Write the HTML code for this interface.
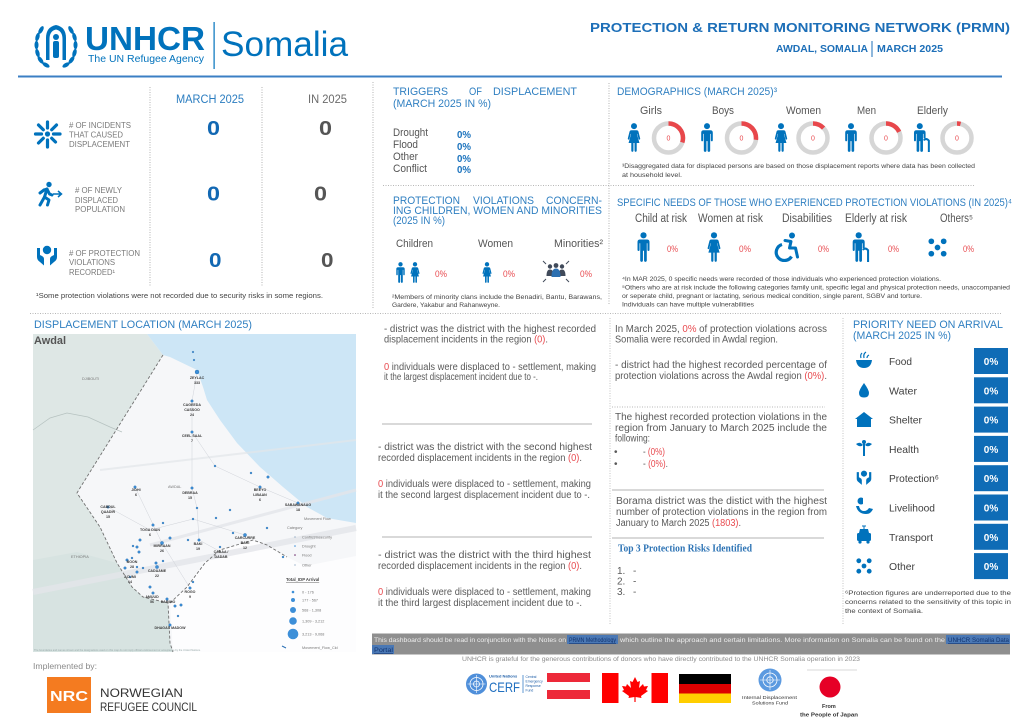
<!DOCTYPE html>
<html><head><meta charset="utf-8"><title>PRMN Awdal March 2025</title>
<style>
html,body{margin:0;padding:0;background:#fff;}
svg{display:block;}
text{font-family:"Liberation Sans",Arial,sans-serif;}
.t{fill:#2f7fc1;font-size:11px;}
.g{fill:#595959;}
.r{fill:#e84a4f;}
.dot{stroke:#a0a0a0;stroke-width:0.8;stroke-dasharray:1 1.5;fill:none;}
.sol{stroke:#9a9a9a;stroke-width:0.8;}
.b{fill:#0072bc;}
.lab{font-size:8px;fill:#7a7a7a;}
.p{font-size:10px;fill:#5a5a5a;}
.fn{font-size:7px;fill:#444;}
.tw{font-size:3.6px;font-weight:bold;fill:#3a3a3a;text-anchor:middle;}
.lg{font-size:3.8px;fill:#777;}
</style></head><body>
<svg width="1024" height="724" viewBox="0 0 1024 724" xmlns="http://www.w3.org/2000/svg">
<defs>
<symbol id="man" viewBox="0 0 16 32"><circle cx="8" cy="3.5" r="3.3"/><path d="M4.3 8 H11.7 Q14.4 8 14.4 10.7 V19 Q14.4 20.2 13.3 20.2 Q12.2 20.2 12.2 19 V12 H11.5 V30.3 Q11.5 31.8 10 31.8 Q8.6 31.8 8.6 30.3 V20 H7.4 V30.3 Q7.4 31.8 6 31.8 Q4.5 31.8 4.5 30.3 V12 H3.8 V19 Q3.8 20.2 2.7 20.2 Q1.6 20.2 1.6 19 V10.7 Q1.6 8 4.3 8 Z"/></symbol>
<symbol id="woman" viewBox="0 0 16 32"><circle cx="8" cy="3.5" r="3.3"/><path d="M5.2 8 H10.8 Q12.6 8 13 9.8 L14.8 17 Q15 18.2 14 18.3 Q13.2 18.4 13 17.5 L11.6 12 H11.2 L14 22 H11 V30.5 Q11 31.8 9.8 31.8 Q8.6 31.8 8.6 30.5 V22 H7.4 V30.5 Q7.4 31.8 6.2 31.8 Q5 31.8 5 30.5 V22 H2 L4.8 12 H4.4 L3 17.5 Q2.8 18.4 2 18.3 Q1 18.2 1.2 17 L3 9.8 Q3.4 8 5.2 8 Z"/></symbol>
<symbol id="eld" viewBox="0 0 22 32"><circle cx="8" cy="3.5" r="3.3"/><path d="M4.3 8 H11.7 Q14.4 8 14.4 10.7 V17 H12.2 V12 H11.5 V30.3 Q11.5 31.8 10 31.8 Q8.6 31.8 8.6 30.3 V20 H7.4 V30.3 Q7.4 31.8 6 31.8 Q4.5 31.8 4.5 30.3 V12 H3.8 V19 Q3.8 20.2 2.7 20.2 Q1.6 20.2 1.6 19 V10.7 Q1.6 8 4.3 8 Z"/><path d="M13 18.5 Q15.5 16.5 18 19.5 V31.5" fill="none" stroke="#0072bc" stroke-width="2.2" stroke-linecap="round"/></symbol>
<symbol id="wc" viewBox="0 0 26 30"><circle cx="19" cy="3.5" r="3"/><path d="M12 8.5 L18 9.5 L16.5 16 H22.5 L24.5 25" fill="none" stroke="#0072bc" stroke-width="3" stroke-linejoin="round" stroke-linecap="round"/><path d="M9 12.5 A8.2 8.2 0 1 0 18.5 24.5" fill="none" stroke="#0072bc" stroke-width="3.2"/></symbol>
<symbol id="dots5" viewBox="0 0 20 20"><circle cx="3.5" cy="3.5" r="3"/><circle cx="16.5" cy="3.5" r="3"/><circle cx="10" cy="10" r="3"/><circle cx="3.5" cy="16.5" r="3"/><circle cx="16.5" cy="16.5" r="3"/></symbol>
<symbol id="hands" viewBox="0 0 24 22"><circle cx="12" cy="5" r="4.2"/><path d="M2 3 V12 Q2 15 5 17 L9 20.5 V14 Q9 12 7 11 L5 10 V3 Z"/><path d="M22 3 V12 Q22 15 19 17 L15 20.5 V14 Q15 12 17 11 L19 10 V3 Z"/></symbol>
</defs>

<!-- ===== HEADER ===== -->
<g fill="#0072bc">
<g>
<ellipse cx="41" cy="30" rx="2" ry="4.3" transform="rotate(30 41 30)"/>
<ellipse cx="37.5" cy="37" rx="2" ry="4.3" transform="rotate(15 37.5 37)"/>
<ellipse cx="36.5" cy="45" rx="2" ry="4.3"/>
<ellipse cx="37.5" cy="53" rx="2" ry="4.3" transform="rotate(-15 37.5 53)"/>
<ellipse cx="40.5" cy="60" rx="2" ry="4.3" transform="rotate(-35 40.5 60)"/>
<ellipse cx="46" cy="65" rx="2" ry="4" transform="rotate(-60 46 65)"/>
<ellipse cx="71" cy="30" rx="2" ry="4.3" transform="rotate(-30 71 30)"/>
<ellipse cx="74.5" cy="37" rx="2" ry="4.3" transform="rotate(-15 74.5 37)"/>
<ellipse cx="75.5" cy="45" rx="2" ry="4.3"/>
<ellipse cx="74.5" cy="53" rx="2" ry="4.3" transform="rotate(15 74.5 53)"/>
<ellipse cx="71.5" cy="60" rx="2" ry="4.3" transform="rotate(35 71.5 60)"/>
<ellipse cx="66" cy="65" rx="2" ry="4" transform="rotate(60 66 65)"/>
<path d="M46 60 V38 Q46 27 56 25 Q66 27 66 38 V60 H62.5 V39 Q62.5 31 56 29.5 Q49.5 31 49.5 39 V60 Z"/>
<circle cx="56" cy="37" r="3"/>
<rect x="53" y="41" width="6" height="17" rx="2"/>
</g>
<text x="85" y="50" font-size="33" font-weight="bold" textLength="120" lengthAdjust="spacingAndGlyphs">UNHCR</text>
<text x="88" y="62" font-size="10.5" textLength="116" lengthAdjust="spacingAndGlyphs">The UN Refugee Agency</text>
<rect x="213.5" y="22" width="1.2" height="47"/>
<text x="221" y="56" font-size="35" textLength="127" lengthAdjust="spacingAndGlyphs">Somalia</text>
</g>
<text x="590" y="32" font-size="12.5" font-weight="bold" fill="#1d6fb8" textLength="420" lengthAdjust="spacingAndGlyphs">PROTECTION &amp; RETURN MONITORING NETWORK (PRMN)</text>
<text x="776" y="52" font-size="10.5" font-weight="bold" fill="#1d6fb8" textLength="92" lengthAdjust="spacingAndGlyphs">AWDAL, SOMALIA</text>
<rect x="871.5" y="41" width="1" height="16" fill="#1d6fb8"/>
<text x="877" y="52" font-size="10.5" font-weight="bold" fill="#1d6fb8" textLength="66" lengthAdjust="spacingAndGlyphs">MARCH 2025</text>
<line x1="18" y1="76.5" x2="1002" y2="76.5" stroke="#3b7fc4" stroke-width="2"/>

<!-- ===== LEFT PANEL ===== -->
<line class="dot" x1="150" y1="87" x2="150" y2="287"/>
<line class="dot" x1="262" y1="87" x2="262" y2="287"/>
<line class="dot" x1="373" y1="82" x2="373" y2="308"/>
<text x="176" y="103" font-size="11.5" fill="#2b7dc0" textLength="68" lengthAdjust="spacingAndGlyphs">MARCH 2025</text>
<text x="308" y="103" font-size="11.5" fill="#6b6b6b" textLength="39" lengthAdjust="spacingAndGlyphs">IN 2025</text>

<!-- row1 icon burst -->
<g stroke="#0072bc" stroke-width="3.2" stroke-linecap="round">
<line x1="47.5" y1="128" x2="47.5" y2="122"/>
<line x1="47.5" y1="140" x2="47.5" y2="147"/>
<line x1="41.5" y1="134" x2="35.5" y2="134"/>
<line x1="53.5" y1="134" x2="60" y2="134"/>
<line x1="43.3" y1="129.8" x2="38.5" y2="125"/>
<line x1="51.7" y1="129.8" x2="56.5" y2="125"/>
<line x1="43.3" y1="138.2" x2="38.5" y2="143"/>
<line x1="51.7" y1="138.2" x2="55.5" y2="142"/>
</g>
<circle cx="47.5" cy="134" r="2.6" fill="#0072bc"/>
<!-- row2 running -->
<g fill="none" stroke="#0072bc" stroke-width="3" stroke-linecap="round" stroke-linejoin="round">
<path d="M44 190 L47 189 L44.5 197 L49 200 L47.5 205"/>
<path d="M44.5 197 L40 205"/>
<path d="M40 193 L44 190"/>
<path d="M47 189 L49.5 194 L52 195"/>
</g>
<circle cx="49" cy="184.5" r="2.7" fill="#0072bc"/>
<path d="M53 194 H61 M58 191 L61.5 194 L58 197" fill="none" stroke="#0072bc" stroke-width="1.5"/>
<!-- row3 hands -->
<use href="#hands" x="35" y="245" width="24" height="22" fill="#0072bc"/>

<text class="lab" x="69" y="128" textLength="62" lengthAdjust="spacingAndGlyphs"># OF INCIDENTS</text>
<text class="lab" x="69" y="137.5" textLength="54" lengthAdjust="spacingAndGlyphs">THAT CAUSED</text>
<text class="lab" x="69" y="147" textLength="61" lengthAdjust="spacingAndGlyphs">DISPLACEMENT</text>
<text class="lab" x="75" y="193" textLength="47" lengthAdjust="spacingAndGlyphs"># OF NEWLY</text>
<text class="lab" x="75" y="203" textLength="43" lengthAdjust="spacingAndGlyphs">DISPLACED</text>
<text class="lab" x="75" y="212" textLength="50" lengthAdjust="spacingAndGlyphs">POPULATION</text>
<text class="lab" x="69" y="256" textLength="71" lengthAdjust="spacingAndGlyphs"># OF PROTECTION</text>
<text class="lab" x="69" y="265" textLength="46" lengthAdjust="spacingAndGlyphs">VIOLATIONS</text>
<text class="lab" x="69" y="275" textLength="46" lengthAdjust="spacingAndGlyphs">RECORDED¹</text>

<g font-size="20" font-weight="bold">
<text x="207" y="135" fill="#1268b3" textLength="13" lengthAdjust="spacingAndGlyphs">0</text>
<text x="319" y="135" fill="#555" textLength="13" lengthAdjust="spacingAndGlyphs">0</text>
<text x="207" y="200.5" fill="#1268b3" textLength="13" lengthAdjust="spacingAndGlyphs">0</text>
<text x="314" y="200.5" fill="#555" textLength="13" lengthAdjust="spacingAndGlyphs">0</text>
<text x="209" y="267" fill="#1268b3" textLength="12.5" lengthAdjust="spacingAndGlyphs">0</text>
<text x="321" y="267" fill="#555" textLength="12.5" lengthAdjust="spacingAndGlyphs">0</text>
</g>
<text class="fn" x="36" y="298" textLength="287" lengthAdjust="spacingAndGlyphs">¹Some protection violations were not recorded due to security risks in some regions.</text>

<!-- ===== TRIGGERS ===== -->
<line class="dot" x1="609" y1="83" x2="609" y2="305"/>
<text class="t" x="393" y="95" textLength="55" lengthAdjust="spacingAndGlyphs">TRIGGERS</text>
<text class="t" x="469" y="95" textLength="13" lengthAdjust="spacingAndGlyphs">OF</text>
<text class="t" x="493" y="95" textLength="84" lengthAdjust="spacingAndGlyphs">DISPLACEMENT</text>
<text class="t" x="393" y="107" textLength="98" lengthAdjust="spacingAndGlyphs">(MARCH 2025 IN %)</text>
<g font-size="11" fill="#555">
<text x="393" y="136" textLength="35" lengthAdjust="spacingAndGlyphs">Drought</text>
<text x="393" y="148" textLength="25" lengthAdjust="spacingAndGlyphs">Flood</text>
<text x="393" y="160" textLength="25" lengthAdjust="spacingAndGlyphs">Other</text>
<text x="393" y="172" textLength="34" lengthAdjust="spacingAndGlyphs">Conflict</text>
</g>
<g font-size="10" font-weight="bold" fill="#1a72bd">
<text x="457" y="138" textLength="14" lengthAdjust="spacingAndGlyphs">0%</text>
<text x="457" y="150" textLength="14" lengthAdjust="spacingAndGlyphs">0%</text>
<text x="457" y="162" textLength="14" lengthAdjust="spacingAndGlyphs">0%</text>
<text x="457" y="173" textLength="14" lengthAdjust="spacingAndGlyphs">0%</text>
</g>
<line class="dot" x1="383" y1="185.5" x2="975" y2="185.5"/>

<text class="t" x="393" y="204" textLength="67" lengthAdjust="spacingAndGlyphs">PROTECTION</text>
<text class="t" x="473" y="204" textLength="61" lengthAdjust="spacingAndGlyphs">VIOLATIONS</text>
<text class="t" x="546" y="204" textLength="56" lengthAdjust="spacingAndGlyphs">CONCERN-</text>
<text class="t" x="393" y="214" textLength="209" lengthAdjust="spacingAndGlyphs">ING CHILDREN, WOMEN AND MINORITIES</text>
<text class="t" x="393" y="224" textLength="52" lengthAdjust="spacingAndGlyphs">(2025 IN %)</text>
<g font-size="11" fill="#555">
<text x="396" y="247" textLength="37" lengthAdjust="spacingAndGlyphs">Children</text>
<text x="478" y="247" textLength="35" lengthAdjust="spacingAndGlyphs">Women</text>
<text x="554" y="247" textLength="49" lengthAdjust="spacingAndGlyphs">Minorities²</text>
</g>
<use href="#man" x="395" y="262" width="11" height="21" fill="#0072bc"/>
<use href="#woman" x="409" y="262" width="12" height="21" fill="#0072bc"/>
<use href="#woman" x="481" y="262" width="12" height="21" fill="#0072bc"/>
<!-- minorities -->
<g fill="#404a5a">
<circle cx="550" cy="266.5" r="2.2"/><circle cx="556" cy="265.5" r="2.4"/><circle cx="562" cy="266.5" r="2.2"/>
<path d="M546.5 276 Q546.5 269.5 550 269.5 Q553.5 269.5 553.5 276 Z"/>
<path d="M558.5 276 Q558.5 269.5 562 269.5 Q565.5 269.5 565.5 276 Z"/>
<path d="M551.5 277 Q551.5 268.5 556 268.5 Q560.5 268.5 560.5 277 Z" fill="#2c6fb0"/>
</g>
<g stroke="#404a5a" stroke-width="1" fill="none">
<path d="M546 264 L543 261"/><path d="M566 264 L569 261"/><path d="M546 279 L543 282"/><path d="M566 279 L569 282"/>
</g>
<g font-size="9" class="r">
<text x="435" y="277" textLength="12" lengthAdjust="spacingAndGlyphs">0%</text>
<text x="503" y="277" textLength="12" lengthAdjust="spacingAndGlyphs">0%</text>
<text x="580" y="277" textLength="12" lengthAdjust="spacingAndGlyphs">0%</text>
</g>
<text x="392" y="299" font-size="6.3" fill="#444" textLength="210" lengthAdjust="spacingAndGlyphs">²Members of minority clans include the Benadiri, Bantu, Barawans,</text>
<text x="392" y="307" font-size="6.3" fill="#444" textLength="108" lengthAdjust="spacingAndGlyphs">Gardere, Yakabur and Rahanweyne.</text>

<!-- ===== DEMOGRAPHICS ===== -->
<text class="t" x="617" y="95" textLength="160" lengthAdjust="spacingAndGlyphs">DEMOGRAPHICS (MARCH 2025)³</text>
<g font-size="11" fill="#555">
<text x="640" y="114" textLength="22" lengthAdjust="spacingAndGlyphs">Girls</text>
<text x="712" y="114" textLength="22" lengthAdjust="spacingAndGlyphs">Boys</text>
<text x="786" y="114" textLength="35" lengthAdjust="spacingAndGlyphs">Women</text>
<text x="857" y="114" textLength="19" lengthAdjust="spacingAndGlyphs">Men</text>
<text x="917" y="114" textLength="31" lengthAdjust="spacingAndGlyphs">Elderly</text>
</g>
<use href="#woman" x="626" y="123" width="16" height="29" fill="#0072bc"/>
<use href="#man" x="699" y="123" width="16" height="29" fill="#0072bc"/>
<use href="#woman" x="773" y="123" width="16" height="29" fill="#0072bc"/>
<use href="#man" x="843" y="123" width="16" height="29" fill="#0072bc"/>
<use href="#eld" x="912" y="123" width="21" height="29" fill="#0072bc"/>
<g fill="none" stroke-width="4.5">
<circle cx="668.5" cy="138" r="14.5" stroke="#d6d6d6"/>
<circle cx="668.5" cy="138" r="14.5" stroke="#e8474b" stroke-dasharray="27.3 91.1" transform="rotate(-90 668.5 138)"/>
<circle cx="741.5" cy="138" r="14.5" stroke="#d6d6d6"/>
<circle cx="741.5" cy="138" r="14.5" stroke="#e8474b" stroke-dasharray="24.6 91.1" transform="rotate(-90 741.5 138)"/>
<circle cx="813" cy="138" r="14.5" stroke="#d6d6d6"/>
<circle cx="813" cy="138" r="14.5" stroke="#e8474b" stroke-dasharray="11.8 91.1" transform="rotate(-90 813 138)"/>
<circle cx="886" cy="138" r="14.5" stroke="#d6d6d6"/>
<circle cx="886" cy="138" r="14.5" stroke="#e8474b" stroke-dasharray="16.4 91.1" transform="rotate(-90 886 138)"/>
<circle cx="957" cy="138" r="14.5" stroke="#d6d6d6"/>
<circle cx="957" cy="138" r="14.5" stroke="#e8474b" stroke-dasharray="3.6 91.1" transform="rotate(-90 957 138)"/>
</g>
<g font-size="7" class="r" text-anchor="middle">
<text x="668.5" y="140.5">0</text><text x="741.5" y="140.5">0</text><text x="813" y="140.5">0</text><text x="886" y="140.5">0</text><text x="957" y="140.5">0</text>
</g>
<text x="622" y="168" font-size="6.3" fill="#444" textLength="353" lengthAdjust="spacingAndGlyphs">³Disaggregated data for displaced persons are based on those displacement reports where data has been collected</text>
<text x="622" y="177" font-size="6.3" fill="#444" textLength="60" lengthAdjust="spacingAndGlyphs">at household level.</text>

<!-- ===== SPECIFIC NEEDS ===== -->
<text class="t" x="617" y="206" textLength="395" lengthAdjust="spacingAndGlyphs">SPECIFIC NEEDS OF THOSE WHO EXPERIENCED PROTECTION VIOLATIONS (IN 2025)⁴</text>
<g font-size="11.5" fill="#555">
<text x="635" y="222" textLength="52" lengthAdjust="spacingAndGlyphs">Child at risk</text>
<text x="698" y="222" textLength="65" lengthAdjust="spacingAndGlyphs">Women at risk</text>
<text x="782" y="222" textLength="50" lengthAdjust="spacingAndGlyphs">Disabilities</text>
<text x="845" y="222" textLength="62" lengthAdjust="spacingAndGlyphs">Elderly at risk</text>
<text x="940" y="222" textLength="33" lengthAdjust="spacingAndGlyphs">Others⁵</text>
</g>
<use href="#man" x="635" y="232" width="17" height="30" fill="#0072bc"/>
<use href="#woman" x="706" y="232" width="16" height="30" fill="#0072bc"/>
<use href="#wc" x="773" y="232" width="26" height="30" fill="#0072bc"/>
<use href="#eld" x="851" y="232" width="21" height="30" fill="#0072bc"/>
<use href="#dots5" x="928" y="238" width="19" height="19" fill="#0072bc"/>
<g font-size="9" class="r">
<text x="667" y="252" textLength="11" lengthAdjust="spacingAndGlyphs">0%</text>
<text x="739" y="252" textLength="12" lengthAdjust="spacingAndGlyphs">0%</text>
<text x="818" y="252" textLength="11" lengthAdjust="spacingAndGlyphs">0%</text>
<text x="888" y="252" textLength="11" lengthAdjust="spacingAndGlyphs">0%</text>
<text x="963" y="252" textLength="11" lengthAdjust="spacingAndGlyphs">0%</text>
</g>
<g font-size="6.3" fill="#444">
<text x="622" y="281" textLength="319" lengthAdjust="spacingAndGlyphs">⁴In MAR 2025, 0 specific needs were recorded of those individuals who experienced protection violations.</text>
<text x="622" y="289.5" textLength="388" lengthAdjust="spacingAndGlyphs">⁵Others who are at risk include the following categories family unit, specific legal and physical protection needs, unaccompanied</text>
<text x="622" y="298" textLength="300" lengthAdjust="spacingAndGlyphs">or seperate child, pregnant or lactating, serious medical condition, single parent, SGBV and torture.</text>
<text x="622" y="306.5" textLength="132" lengthAdjust="spacingAndGlyphs">Individuals can have multiple vulnerabilities</text>
</g>

<line class="dot" x1="30" y1="313.5" x2="1002" y2="313.5"/>

<!-- ===== MAP ===== -->
<text class="t" x="34" y="328" font-size="11.5" textLength="218" lengthAdjust="spacingAndGlyphs">DISPLACEMENT LOCATION (MARCH 2025)</text>
<g>
<rect x="33" y="334" width="323" height="318" fill="#f6f7f9"/>
<polygon points="170,603 187,587 205,563 220,550 253,540 267,545 287,557 305,566 356,556 356,652 173,652" fill="#fdfdfe"/>
<polygon fill="#dee7e5" points="33,334 147,334 163,355 80,488 77,493 100,527 117,563 132,587 143,597 168,603 170,643 173,652 33,652"/>
<polygon fill="#d7e3e1" points="33,560 77,552 117,563 132,587 143,597 168,603 170,643 173,652 33,652"/>
<polygon fill="#cde6f6" points="147,334 356,334 356,523 327,518 307,507 283,487 260,467 237,443 220,420 207,400 203,387 197,370 170,357 163,355"/>
<polyline points="33,430 50,418 67,413 88,417 110,427 122,432" fill="none" stroke="#b6c2c0" stroke-width="0.7"/>
<g stroke="#e3e5ea" fill="none">
<line x1="33" y1="592" x2="356" y2="528" stroke-width="6" opacity=".8"/>
<line x1="150" y1="545" x2="356" y2="490" stroke-width="3" opacity=".8"/>
<line x1="100" y1="470" x2="356" y2="440" stroke-width="2" opacity=".7"/>
</g>
<g stroke="#d0d3d9" stroke-width="0.5" fill="none">
<polyline points="197,373 192,401 192,432 215,466 260,487 298,503"/>
<polyline points="192,432 192,488 197,508 199,540 221,552"/>
<polyline points="135,487 162,543 190,588"/>
<polyline points="108,507 150,530 193,519 245,535"/>
</g>
<polyline points="163,355 80,488 77,493 100,527 117,563 132,587 143,597 168,603 170,643 173,652" fill="none" stroke="#6f6f6f" stroke-width="0.9" stroke-dasharray="3 2"/>
<polyline points="170,603 187,587 205,563 220,550 253,540 267,545 287,557" fill="none" stroke="#6f6f6f" stroke-width="0.9" stroke-dasharray="3 2"/>
<text x="34" y="344" font-size="11" font-weight="bold" fill="#555" textLength="32" lengthAdjust="spacingAndGlyphs">Awdal</text>
<text class="lg" x="82" y="380">DJIBOUTI</text>
<text class="lg" x="71" y="558">ETHIOPIA</text>
<text class="lg" x="168" y="488">AWDAL</text>
<g fill="#3d8fd8" stroke="#1b5fa0" stroke-width="0.3">
<circle cx="197" cy="372" r="2"/><circle cx="193" cy="352" r="0.9"/><circle cx="194" cy="360" r="0.9"/>
<circle cx="192" cy="401" r="1.3"/><circle cx="192" cy="432" r="1.3"/><circle cx="215" cy="466" r="1"/>
<circle cx="251" cy="473" r="1"/><circle cx="268" cy="477" r="1.3"/><circle cx="135" cy="487" r="1.3"/>
<circle cx="192" cy="488" r="1.3"/><circle cx="260" cy="487" r="1.3"/><circle cx="197" cy="508" r="1"/>
<circle cx="230" cy="510" r="1"/><circle cx="193" cy="519" r="1"/><circle cx="216" cy="518" r="1"/>
<circle cx="298" cy="503" r="1.3"/><circle cx="108" cy="507" r="1.3"/><circle cx="153" cy="525" r="1.3"/>
<circle cx="163" cy="523" r="1"/><circle cx="170" cy="538" r="1.3"/><circle cx="162" cy="543" r="1.6"/>
<circle cx="188" cy="540" r="1"/><circle cx="199" cy="540" r="1.3"/><circle cx="233" cy="533" r="1"/>
<circle cx="245" cy="535" r="1.6"/><circle cx="267" cy="528" r="1"/><circle cx="140" cy="540" r="1.3"/>
<circle cx="137" cy="547" r="1.3"/><circle cx="133" cy="546" r="1"/><circle cx="139" cy="552" r="1.3"/>
<circle cx="127" cy="560" r="1.3"/><circle cx="132" cy="558" r="1"/><circle cx="156" cy="563" r="1.3"/>
<circle cx="163" cy="561" r="1"/><circle cx="157" cy="567" r="1.6"/><circle cx="137" cy="567" r="1"/>
<circle cx="143" cy="568" r="1"/><circle cx="125" cy="568" r="1.3"/><circle cx="137" cy="572" r="1.3"/>
<circle cx="130" cy="577" r="1"/><circle cx="150" cy="587" r="1.3"/><circle cx="153" cy="593" r="1.3"/>
<circle cx="190" cy="588" r="1.3"/><circle cx="193" cy="582" r="1"/><circle cx="167" cy="599" r="1.3"/>
<circle cx="175" cy="606" r="1.3"/><circle cx="181" cy="605" r="1.3"/><circle cx="178" cy="616" r="1"/>
<circle cx="170" cy="625" r="1.3"/><circle cx="220" cy="547" r="1"/><circle cx="283" cy="557" r="1"/>
</g>
<text class="tw" x="197" y="379">ZEYLAC</text><text class="tw" x="197" y="384">333</text>
<text class="tw" x="192" y="406">CAGEEDA</text><text class="tw" x="192" y="411">CASSOO</text><text class="tw" x="192" y="416">24</text>
<text class="tw" x="192" y="437">CEEL SAAL</text><text class="tw" x="192" y="442">7</text>
<text class="tw" x="136" y="491">JIDHI</text><text class="tw" x="136" y="496">6</text>
<text class="tw" x="190" y="494">DEBRAA</text><text class="tw" x="190" y="499">15</text>
<text class="tw" x="260" y="491">BEEYO</text><text class="tw" x="260" y="496">LIBAAN</text><text class="tw" x="260" y="501">6</text>
<text class="tw" x="108" y="508">CABDUL</text><text class="tw" x="108" y="513">QAADIR</text><text class="tw" x="108" y="518">15</text>
<text class="tw" x="298" y="506">SABAWANAAG</text><text class="tw" x="298" y="511">18</text>
<text class="tw" x="150" y="531">TOGA DIAN</text><text class="tw" x="150" y="536">6</text>
<text class="tw" x="162" y="547">MIRRAAN</text><text class="tw" x="162" y="552">26</text>
<text class="tw" x="198" y="545">BAKI</text><text class="tw" x="198" y="550">19</text>
<text class="tw" x="221" y="553">CABAA /</text><text class="tw" x="221" y="558">DADAB</text>
<text class="tw" x="245" y="539">CARCURRE</text><text class="tw" x="245" y="544">BARI</text><text class="tw" x="245" y="549">12</text>
<text class="tw" x="132" y="563">BOON</text><text class="tw" x="132" y="568">28</text>
<text class="tw" x="157" y="572">CADAAME</text><text class="tw" x="157" y="577">22</text>
<text class="tw" x="130" y="578">ACUMI</text><text class="tw" x="130" y="583">14</text>
<text class="tw" x="190" y="593">ROGO</text><text class="tw" x="190" y="598">9</text>
<text class="tw" x="152" y="598">AMUUD</text><text class="tw" x="152" y="603">56</text>
<text class="tw" x="168" y="603">DARIMO</text>
<text class="tw" x="170" y="629">DHAGAX MADOW</text>
<!-- legend -->
<text class="lg" x="304" y="520">Movement Flow</text>
<text class="lg" x="287" y="529">Category</text>
<g fill="#6f8fb0"><circle cx="295" cy="537" r="0.6"/><circle cx="295" cy="546" r="0.8" fill="#3d8fd8"/><circle cx="295" cy="555" r="0.8" fill="#6b2a6b"/><circle cx="295" cy="565" r="0.6"/></g>
<text class="lg" x="302" y="538.5">Conflict/Insecurity</text>
<text class="lg" x="302" y="547.5">Drought</text>
<text class="lg" x="302" y="556.5">Flood</text>
<text class="lg" x="302" y="566.5">Other</text>
<text x="286" y="581" font-size="4.2" font-weight="bold" fill="#444" text-decoration="underline">Total_IDP Arrival</text>
<g fill="#3d8fd8">
<circle cx="293" cy="592" r="1.3"/><circle cx="293" cy="600" r="2"/><circle cx="293" cy="610" r="3"/><circle cx="293" cy="621" r="3.8"/><circle cx="293" cy="634" r="5.3"/>
</g>
<text class="lg" x="302" y="593.5">0 - 176</text>
<text class="lg" x="302" y="601.5">177 - 567</text>
<text class="lg" x="302" y="611.5">568 - 1,308</text>
<text class="lg" x="302" y="622.5">1,309 - 3,212</text>
<text class="lg" x="302" y="635.5">3,213 - 9,068</text>
<path d="M282 646 L286 648" stroke="#2a6fb5" stroke-width="1"/>
<text class="lg" x="302" y="649">Movement_Flow_Cld</text>
<text x="34" y="651" font-size="2.6" fill="#9aa">The boundaries and names shown and the designations used on this map do not imply official endorsement or acceptance by the United Nations.</text>
</g>

<!-- ===== MIDDLE TEXT ===== -->
<line x1="610" y1="318" x2="610" y2="624" stroke="#b5b5b5" stroke-width="0.8" stroke-dasharray="1 1.5"/>
<line x1="843" y1="318" x2="843" y2="624" stroke="#b5b5b5" stroke-width="0.8" stroke-dasharray="1 1.5"/>
<g class="p">
<text x="384" y="332" textLength="212" lengthAdjust="spacingAndGlyphs">- district was the district with the highest recorded</text>
<text x="384" y="342.5" textLength="164" lengthAdjust="spacingAndGlyphs">displacement incidents in the region <tspan class="r">(0)</tspan>.</text>
<text x="384" y="370" textLength="212" lengthAdjust="spacingAndGlyphs"><tspan class="r">0</tspan> individuals were displaced to - settlement, making</text>
<text x="384" y="380" textLength="154" lengthAdjust="spacingAndGlyphs">it the largest displacement incident due to -.</text>
<text x="378" y="450" textLength="214" lengthAdjust="spacingAndGlyphs">- district was the district with the second highest</text>
<text x="378" y="461" textLength="204" lengthAdjust="spacingAndGlyphs">recorded displacement incidents in the region <tspan class="r">(0)</tspan>.</text>
<text x="378" y="487" textLength="213" lengthAdjust="spacingAndGlyphs"><tspan class="r">0</tspan> individuals were displaced to - settlement, making</text>
<text x="378" y="498" textLength="212" lengthAdjust="spacingAndGlyphs">it the second largest displacement incident due to -.</text>
<text x="378" y="558" textLength="213" lengthAdjust="spacingAndGlyphs">- district was the district with the third highest</text>
<text x="378" y="569" textLength="204" lengthAdjust="spacingAndGlyphs">recorded displacement incidents in the region <tspan class="r">(0)</tspan>.</text>
<text x="378" y="595" textLength="213" lengthAdjust="spacingAndGlyphs"><tspan class="r">0</tspan> individuals were displaced to - settlement, making</text>
<text x="378" y="606" textLength="204" lengthAdjust="spacingAndGlyphs">it the third largest displacement incident due to -.</text>
</g>
<line class="sol" x1="382" y1="424" x2="592" y2="424"/>
<line class="sol" x1="382" y1="537" x2="592" y2="537"/>

<!-- ===== RIGHT TEXT ===== -->
<g class="p">
<text x="615" y="332" textLength="212" lengthAdjust="spacingAndGlyphs">In March 2025, <tspan class="r">0%</tspan> of protection violations across</text>
<text x="615" y="342.5" textLength="163" lengthAdjust="spacingAndGlyphs">Somalia were recorded in Awdal region.</text>
<text x="615" y="368" textLength="212" lengthAdjust="spacingAndGlyphs">- district had the highest recorded percentage of</text>
<text x="615" y="379" textLength="212" lengthAdjust="spacingAndGlyphs">protection violations across the Awdal region <tspan class="r">(0%)</tspan>.</text>
<text x="615" y="420" textLength="212" lengthAdjust="spacingAndGlyphs">The highest recorded protection violations in the</text>
<text x="615" y="431" textLength="212" lengthAdjust="spacingAndGlyphs">region from January to March 2025 include the</text>
<text x="615" y="441.5" textLength="35" lengthAdjust="spacingAndGlyphs">following:</text>
<text x="614" y="455">•</text><text x="643" y="455" textLength="22" lengthAdjust="spacingAndGlyphs">- <tspan class="r">(0%)</tspan></text>
<text x="614" y="467">•</text><text x="643" y="467" textLength="25" lengthAdjust="spacingAndGlyphs">- <tspan class="r">(0%)</tspan>.</text>
<text x="616" y="504" textLength="211" lengthAdjust="spacingAndGlyphs">Borama district was the distict with the highest</text>
<text x="616" y="515" textLength="211" lengthAdjust="spacingAndGlyphs">number of protection violations in the region from</text>
<text x="616" y="526" textLength="125" lengthAdjust="spacingAndGlyphs">January to March 2025 <tspan class="r">(1803)</tspan>.</text>
<text x="617" y="574">1.</text><text x="633" y="574">-</text>
<text x="617" y="584.5">2.</text><text x="633" y="584.5">-</text>
<text x="617" y="595">3.</text><text x="633" y="595">-</text>
</g>
<line class="dot" x1="612" y1="407" x2="825" y2="407"/>
<line class="sol" x1="612" y1="490" x2="824" y2="490"/>
<line class="sol" x1="612" y1="538" x2="824" y2="538"/>
<text x="618" y="551.5" font-family="Liberation Serif, serif" font-size="11" font-weight="bold" fill="#2e74b5" textLength="134" lengthAdjust="spacingAndGlyphs" style="font-family:'Liberation Serif',serif">Top 3 Protection Risks Identified</text>

<!-- ===== PRIORITY NEEDS ===== -->
<text class="t" x="853" y="328" textLength="150" lengthAdjust="spacingAndGlyphs">PRIORITY NEED ON ARRIVAL</text>
<text class="t" x="853" y="339" textLength="98" lengthAdjust="spacingAndGlyphs">(MARCH 2025 IN %)</text>
<g fill="#0f6cb6">
<rect x="974" y="348" width="34" height="26"/>
<rect x="974" y="377.3" width="34" height="26"/>
<rect x="974" y="406.6" width="34" height="26"/>
<rect x="974" y="435.9" width="34" height="26"/>
<rect x="974" y="465.2" width="34" height="26"/>
<rect x="974" y="494.5" width="34" height="26"/>
<rect x="974" y="523.8" width="34" height="26"/>
<rect x="974" y="553.1" width="34" height="26"/>
</g>
<g font-size="10" font-weight="bold" fill="#fff" text-anchor="middle">
<text x="991" y="365">0%</text><text x="991" y="394.3">0%</text><text x="991" y="423.6">0%</text><text x="991" y="452.9">0%</text>
<text x="991" y="482.2">0%</text><text x="991" y="511.5">0%</text><text x="991" y="540.8">0%</text><text x="991" y="570.1">0%</text>
</g>
<g font-size="10.5" fill="#404040">
<text x="889" y="365" textLength="23" lengthAdjust="spacingAndGlyphs">Food</text>
<text x="889" y="394.3" textLength="28" lengthAdjust="spacingAndGlyphs">Water</text>
<text x="889" y="423.6" textLength="33" lengthAdjust="spacingAndGlyphs">Shelter</text>
<text x="889" y="452.9" textLength="30" lengthAdjust="spacingAndGlyphs">Health</text>
<text x="889" y="482.2" textLength="50" lengthAdjust="spacingAndGlyphs">Protection⁶</text>
<text x="889" y="511.5" textLength="46" lengthAdjust="spacingAndGlyphs">Livelihood</text>
<text x="889" y="540.8" textLength="44" lengthAdjust="spacingAndGlyphs">Transport</text>
<text x="889" y="570.1" textLength="26" lengthAdjust="spacingAndGlyphs">Other</text>
</g>
<!-- priority icons -->
<g fill="#0072bc">
<path d="M856 360 H872 Q871 368 864 368 Q857 368 856 360 Z"/><path d="M861 358 Q860 355 862 353 M864 358 Q863 354 866 352 M867 358 Q867 356 869 355" stroke="#0072bc" stroke-width="1.2" fill="none"/>
<path d="M864 383 Q869 390 869 393 Q869 397.5 864 397.5 Q859 397.5 859 393 Q859 390 864 383 Z"/>
<path d="M855 419 L864 412 L873 419 Z"/><rect x="857" y="419" width="14" height="8"/>
<rect x="863" y="441" width="2" height="15"/><path d="M856 444 Q860 441 863 445 Q860 448 856 444 Z M872 444 Q868 441 865 445 Q868 448 872 444 Z"/><circle cx="864" cy="442" r="2"/>
<use href="#hands" x="855" y="470" width="18" height="16"/>
<circle cx="861" cy="501" r="3.5"/><path d="M856 506 Q858 514 866 514 Q871 514 873 509 L869 508 Q867 511 864 511 Q860 511 859 506 Z"/><rect x="863" y="498" width="1.5" height="6" fill="#fff"/>
<rect x="857" y="533" width="14" height="8" rx="1.5"/><path d="M859 533 L860 529 H868 L869 533 Z"/><circle cx="860" cy="542" r="1.6"/><circle cx="868" cy="542" r="1.6"/><path d="M864 529 V526 M862 526 H866" stroke="#0072bc" stroke-width="1"/>
<use href="#dots5" x="856" y="558" width="16" height="16"/>
</g>
<g font-size="6.5" fill="#444">
<text x="845" y="595" textLength="166" lengthAdjust="spacingAndGlyphs">⁶Protection figures are underreported due to the</text>
<text x="845" y="604" textLength="166" lengthAdjust="spacingAndGlyphs">concerns related to the sensitivity of this topic in</text>
<text x="845" y="613" textLength="78" lengthAdjust="spacingAndGlyphs">the context of Somalia.</text>
</g>

<!-- ===== FOOTER ===== -->
<rect x="372" y="633.5" width="638" height="21" fill="#8f8f8f"/>
<rect x="567" y="635" width="51" height="9" fill="#4a78b5"/>
<rect x="946" y="635" width="64" height="9" fill="#4a78b5"/>
<rect x="372" y="645" width="22" height="9" fill="#4a78b5"/>
<g font-size="6" fill="#eeeeee">
<text x="374" y="642" textLength="192" lengthAdjust="spacingAndGlyphs">This dashboard should be read in conjunction with the Notes on</text>
<text x="620" y="642" textLength="325" lengthAdjust="spacingAndGlyphs">which outline the approach and certain limitations. More information on Somalia can be found on the</text>
</g>
<g font-size="6" fill="#12336e" text-decoration="underline">
<text x="569" y="642" textLength="47" lengthAdjust="spacingAndGlyphs">PRMN Methodology</text>
<text x="948" y="642" textLength="61" lengthAdjust="spacingAndGlyphs">UNHCR Somalia Data</text>
<text x="374" y="652" textLength="19" lengthAdjust="spacingAndGlyphs">Portal</text>
</g>
<text x="462" y="661" font-size="6" fill="#8a8a8a" textLength="398" lengthAdjust="spacingAndGlyphs">UNHCR is grateful for the generous contributions of donors who have directly contributed to the UNHCR Somalia operation in 2023</text>

<text x="33" y="669" font-size="8" fill="#8a8a8a" textLength="64" lengthAdjust="spacingAndGlyphs">Implemented by:</text>
<rect x="47" y="677" width="44" height="36" fill="#f47b20"/>
<text x="50" y="701" font-size="15" font-weight="bold" fill="#fff" textLength="38" lengthAdjust="spacingAndGlyphs">NRC</text>
<text x="100" y="697" font-size="11.5" fill="#333" textLength="83" lengthAdjust="spacingAndGlyphs">NORWEGIAN</text>
<text x="100" y="711" font-size="11.5" fill="#333" textLength="97" lengthAdjust="spacingAndGlyphs">REFUGEE COUNCIL</text>

<!-- CERF -->
<circle cx="476.5" cy="684" r="10.5" fill="#4f8fda"/>
<circle cx="476.5" cy="684" r="6.5" fill="none" stroke="#fff" stroke-width="0.8"/>
<circle cx="476.5" cy="684" r="3" fill="none" stroke="#fff" stroke-width="0.8"/>
<line x1="476.5" y1="675" x2="476.5" y2="693" stroke="#fff" stroke-width="0.6"/>
<line x1="467.5" y1="684" x2="485.5" y2="684" stroke="#fff" stroke-width="0.6"/>
<text x="489" y="677.5" font-size="4" font-weight="bold" fill="#1f5fa8">United Nations</text>
<text x="489" y="692" font-size="14" fill="#1f6fc0" textLength="31" lengthAdjust="spacingAndGlyphs">CERF</text>
<line x1="523" y1="675" x2="523" y2="693" stroke="#1f6fc0" stroke-width="0.7"/>
<g font-size="3.4" fill="#1f5fa8"><text x="525.5" y="678">Central</text><text x="525.5" y="682.5">Emergency</text><text x="525.5" y="687">Response</text><text x="525.5" y="691.5">Fund</text></g>
<!-- Austria -->
<rect x="547" y="673" width="43" height="9" fill="#ed2939"/>
<rect x="547" y="682" width="43" height="8" fill="#fff"/>
<rect x="547" y="690" width="43" height="9" fill="#ed2939"/>
<!-- Canada -->
<rect x="602" y="673" width="16.5" height="30" fill="#ff0000"/>
<rect x="651.5" y="673" width="16.5" height="30" fill="#ff0000"/>
<path fill="#ff0000" d="M635 677 L637.5 682 L640 681 L639 688 L643 684 L644 686.5 L648 686 L646 690 L648 691 L641 696 L641.5 698 L635.6 697 V702 H634.4 V697 L628.5 698 L629 696 L622 691 L624 690 L622 686 L626 686.5 L627 684 L631 688 L630 681 L632.5 682 Z"/>
<!-- Germany -->
<rect x="679" y="674" width="52" height="10" fill="#000"/>
<rect x="679" y="684" width="52" height="9.5" fill="#dd0000"/>
<rect x="679" y="693.5" width="52" height="9.5" fill="#ffce00"/>
<!-- IDSF -->
<circle cx="770" cy="680" r="11.5" fill="#5c9ae0"/>
<circle cx="770" cy="680" r="7" fill="none" stroke="#fff" stroke-width="0.8"/>
<circle cx="770" cy="680" r="3.2" fill="none" stroke="#fff" stroke-width="0.8"/>
<line x1="770" y1="670" x2="770" y2="690" stroke="#fff" stroke-width="0.6"/>
<line x1="760" y1="680" x2="780" y2="680" stroke="#fff" stroke-width="0.6"/>
<text x="742" y="699" font-size="4.5" fill="#333" textLength="55" lengthAdjust="spacingAndGlyphs">Internal Displacement</text>
<text x="752" y="704.5" font-size="4.5" fill="#333" textLength="36" lengthAdjust="spacingAndGlyphs">Solutions Fund</text>
<!-- Japan -->
<line x1="807" y1="670" x2="857" y2="670" stroke="#cccccc" stroke-width="0.8"/>
<circle cx="830" cy="687" r="10.5" fill="#e60026"/>
<text x="822" y="708" font-size="5.5" font-weight="bold" fill="#333">From</text>
<text x="800" y="716.5" font-size="5.5" font-weight="bold" fill="#333" textLength="58" lengthAdjust="spacingAndGlyphs">the People of Japan</text>
</svg>
</body></html>
